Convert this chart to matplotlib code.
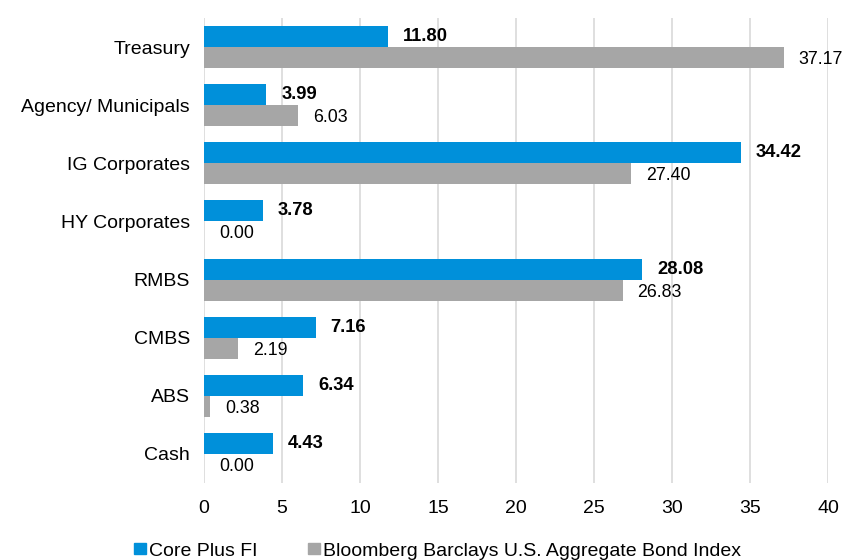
import matplotlib
matplotlib.use("Agg")
import matplotlib.pyplot as plt
import numpy as np
from matplotlib.patches import Patch

categories = ["Treasury", "Agency/ Municipals", "IG Corporates", "HY Corporates",
              "RMBS", "CMBS", "ABS", "Cash"]
core_plus = [11.80, 3.99, 34.42, 3.78, 28.08, 7.16, 6.34, 4.43]
benchmark = [37.17, 6.03, 27.40, 0.00, 26.83, 2.19, 0.38, 0.00]
series_names = ["Core Plus FI", "Bloomberg Barclays U.S. Aggregate Bond Index"]
xticks = [0, 5, 10, 15, 20, 25, 30, 35, 40]

plt.rcParams['font.family'] = ['Liberation Sans', 'DejaVu Sans']
blue = "#0090DA"
gray = "#A6A6A6"
FS = 14
LFS = 12.8

fig = plt.figure(figsize=(8.45, 5.6), dpi=100)
ax = fig.add_axes([204/845, 1-483/560, (828-204)/845, (483-18)/560])

y = np.arange(len(categories))
h = 0.362
ax.barh(y - h/2, core_plus, height=h, color=blue, zorder=3)
ax.barh(y + h/2, benchmark, height=h, color=gray, zorder=3)

for yi, v in zip(y, core_plus):
    ax.annotate(f"{v:.2f}", (v, yi - h/2), xytext=(15, 0), textcoords="offset pixels",
                ha="left", va="center", fontsize=LFS + 0.4, fontweight="bold", color="black")
for yi, v in zip(y, benchmark):
    ax.annotate(f"{v:.2f}", (v, yi + h/2), xytext=(15, -2), textcoords="offset pixels",
                ha="left", va="center", fontsize=LFS, color="black")

ax.set_ylim(len(categories) - 0.5, -0.5)
ax.set_xlim(0, 40)
ax.set_yticks(y)
ax.set_yticklabels(categories, fontsize=FS)
ax.set_xticks(xticks)
ax.set_xticklabels([str(t) for t in xticks], fontsize=FS)
ax.tick_params(axis="both", length=0)
ax.tick_params(axis="y", pad=10)
ax.tick_params(axis="x", pad=12)
for s in ax.spines.values():
    s.set_visible(False)
ax.grid(axis="x", color="#D9D9D9", linewidth=1.2, zorder=0)
ax.set_axisbelow(True)

handles = [Patch(color=blue), Patch(color=gray)]
fig.legend(handles, series_names, loc="center", bbox_to_anchor=(437.5/845, 1-551/560),
           ncol=2, frameon=False, fontsize=FS, handlelength=0.6, handleheight=0.55,
           handletextpad=0.15, columnspacing=2.6, borderpad=0, borderaxespad=0)

fig.savefig("out.png", dpi=100)
